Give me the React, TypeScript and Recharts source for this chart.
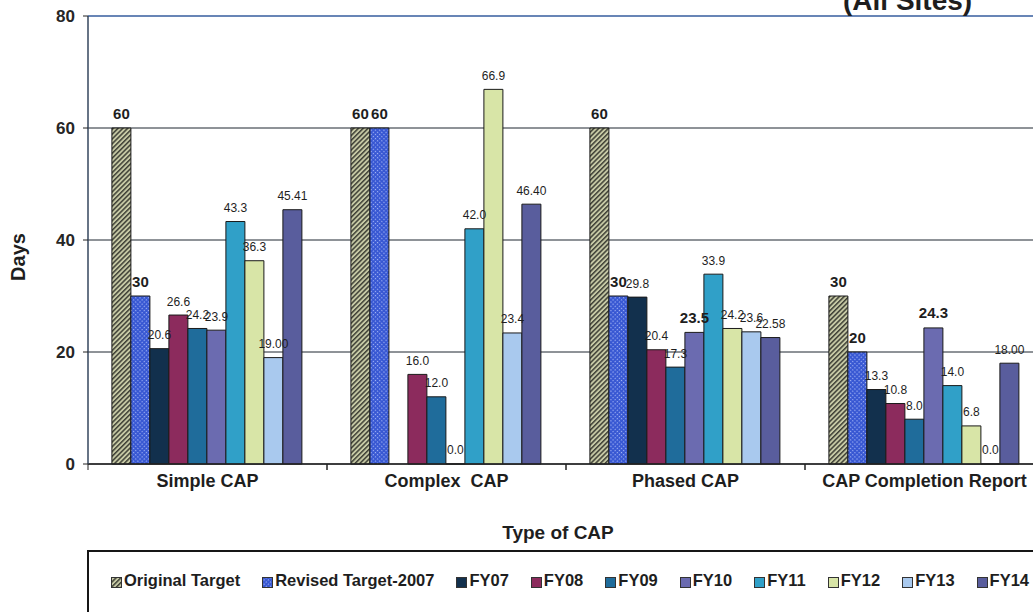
import React from 'react';
import {
  BarChart,
  Bar,
  XAxis,
  YAxis,
  CartesianGrid,
  LabelList,
  Legend,
  ReferenceLine,
} from 'recharts';

// ---- data ----
const categories = ['Simple CAP', 'Complex  CAP', 'Phased CAP', 'CAP Completion Report'];
const originalTarget = [60, 60, 60, 30];
const revisedTarget2007 = [30, 60, 30, 20];
const fy07 = [20.6, null, 29.8, 13.3];
const fy08 = [26.6, 16.0, 20.4, 10.8];
const fy09 = [24.2, 12.0, 17.3, 8.0];
const fy10 = [23.9, 0.0, 23.5, 24.3];
const fy11 = [43.3, 42.0, 33.9, 14.0];
const fy12 = [36.3, 66.9, 24.2, 6.8];
const fy13 = [19.0, 23.4, 23.6, 0.0];
const fy14 = [45.41, 46.4, 22.58, 18.0];
const yTicks = [0, 20, 40, 60, 80];

// ---- layout / styling ----
const FONT = '"Liberation Sans", Arial, Helvetica, sans-serif';
const CHART_W = 1100;
const CHART_H = 612;
const MARGIN = { top: 16, right: 56, bottom: 88, left: 0 };
const Y_AXIS_W = 88;
const X_AXIS_H = 60;
const HALF_BAND = (CHART_W - MARGIN.left - MARGIN.right - Y_AXIS_W) / categories.length / 2;

type Series = {
  key: string;
  name: string;
  values: (number | null)[];
  fill: string;
  decimals: (i: number) => number;
  bold: (i: number) => boolean;
};

const fy13Decimals = [2, 1, 1, 1];
const fy10BoldLabel = [false, false, true, true];

const series: Series[] = [
  { key: 'orig', name: 'Original Target', values: originalTarget, fill: 'url(#hatchOriginal)', decimals: () => 0, bold: () => true },
  { key: 'rev', name: 'Revised Target-2007', values: revisedTarget2007, fill: 'url(#dotsRevised)', decimals: () => 0, bold: () => true },
  { key: 'fy07', name: 'FY07', values: fy07, fill: '#12304d', decimals: () => 1, bold: () => false },
  { key: 'fy08', name: 'FY08', values: fy08, fill: '#8c2b5d', decimals: () => 1, bold: () => false },
  { key: 'fy09', name: 'FY09', values: fy09, fill: '#1f6c9b', decimals: () => 1, bold: () => false },
  { key: 'fy10', name: 'FY10', values: fy10, fill: '#6b6bb0', decimals: () => 1, bold: (i) => fy10BoldLabel[i] },
  { key: 'fy11', name: 'FY11', values: fy11, fill: '#30a0c8', decimals: () => 1, bold: () => false },
  { key: 'fy12', name: 'FY12', values: fy12, fill: '#d8e5a7', decimals: () => 1, bold: () => false },
  { key: 'fy13', name: 'FY13', values: fy13, fill: '#a9c9ee', decimals: (i) => fy13Decimals[i], bold: () => false },
  { key: 'fy14', name: 'FY14', values: fy14, fill: '#595d9d', decimals: () => 2, bold: () => false },
];

const data = categories.map((category, i) => {
  const row: Record<string, string | number | null> = { category };
  series.forEach((s) => {
    row[s.key] = s.values[i];
  });
  return row;
});

// value label drawn centred above each bar
const makeValueLabel = (s: Series) => (props: any) => {
  const { value, index } = props;
  if (value === null || value === undefined || Number.isNaN(Number(value))) return null;
  const vb = props.viewBox ?? props;
  const cx = vb.x + vb.width / 2;
  const top = Math.min(vb.y, vb.y + vb.height);
  const bold = s.bold(index);
  return (
    <text
      x={cx}
      y={top - 9.5}
      textAnchor="middle"
      fontFamily={FONT}
      fontSize={bold ? 15 : 12}
      fontWeight={bold ? 700 : 400}
      fill="#1e1e1e"
    >
      {Number(value).toFixed(s.decimals(index))}
    </text>
  );
};

const CategoryTick = (props: any) => {
  const { x, y, payload } = props;
  return (
    <g>
      <line x1={x - HALF_BAND} x2={x - HALF_BAND} y1={y} y2={y + 6} stroke="#222" strokeWidth={1} />
      <line x1={x + HALF_BAND} x2={x + HALF_BAND} y1={y} y2={y + 6} stroke="#222" strokeWidth={1} />
      <text
        x={x}
        y={y + 23}
        textAnchor="middle"
        fontFamily={FONT}
        fontSize={18}
        fontWeight={700}
        fill="#1e1e1e"
        style={{ whiteSpace: 'pre' }}
      >
        {payload.value}
      </text>
    </g>
  );
};

const DaysLabel = (props: any) => {
  const vb = props.viewBox ?? { x: 0, y: 16, width: 88, height: 448 };
  const x = vb.x + 25;
  const y = vb.y + vb.height / 2 + 17;
  return (
    <text
      x={x}
      y={y}
      transform={`rotate(-90 ${x} ${y})`}
      textAnchor="middle"
      fontFamily={FONT}
      fontSize={20}
      fontWeight={700}
      fill="#1e1e1e"
    >
      Days
    </text>
  );
};

const TypeLabel = (props: any) => {
  const vb = props.viewBox ?? { x: 88, y: 464, width: 956, height: 60 };
  return (
    <text
      x={vb.x + vb.width / 2 - 8}
      y={vb.y + 75}
      textAnchor="middle"
      fontFamily={FONT}
      fontSize={19}
      fontWeight={700}
      fill="#1e1e1e"
    >
      Type of CAP
    </text>
  );
};

const LegendBox = () => (
  <div
    style={{
      borderTop: '2px solid #161616',
      borderLeft: '2px solid #161616',
      height: 70,
      boxSizing: 'border-box',
      paddingLeft: 22,
      paddingTop: 19,
      display: 'flex',
      alignItems: 'flex-start',
      fontFamily: FONT,
      fontWeight: 700,
      fontSize: 16.5,
      color: '#1e1e1e',
      whiteSpace: 'nowrap',
      textAlign: 'left',
    }}
  >
    {series.map((s) => (
      <span key={s.key} style={{ display: 'inline-flex', alignItems: 'center', marginRight: 22 }}>
        <svg width={11} height={11} style={{ position: 'relative', top: 2 }}>
          <rect x={0.5} y={0.5} width={10} height={10} fill={s.fill} stroke="#333" strokeWidth={1} />
        </svg>
        <span style={{ marginLeft: 2 }}>{s.name}</span>
      </span>
    ))}
  </div>
);

export default function App() {
  return (
    <div
      style={{
        position: 'absolute',
        left: 0,
        top: 0,
        width: 1033,
        height: 612,
        overflow: 'hidden',
        background: '#ffffff',
      }}
    >
      <svg width={0} height={0} style={{ position: 'absolute' }}>
        <defs>
          <pattern id="hatchOriginal" width={3.4} height={3.4} patternUnits="userSpaceOnUse" patternTransform="rotate(45)">
            <rect width={3.4} height={3.4} fill="#c6c9a5" />
            <rect width={1.5} height={3.4} fill="#3f4036" />
          </pattern>
          <pattern id="dotsRevised" width={3} height={3} patternUnits="userSpaceOnUse" patternTransform="rotate(45)">
            <rect width={3} height={3} fill="#3656d2" />
            <rect width={1.2} height={1.2} fill="#a8b8f6" />
          </pattern>
        </defs>
      </svg>

      <BarChart
        width={CHART_W}
        height={CHART_H}
        data={data}
        margin={MARGIN}
        barCategoryGap="10%"
        barGap={0}
      >
        <CartesianGrid vertical={false} stroke="#1f2630" strokeWidth={1} />
        <XAxis
          dataKey="category"
          height={X_AXIS_H}
          axisLine={{ stroke: '#222', strokeWidth: 1.5 }}
          tickLine={false}
          tickSize={0}
          tickMargin={0}
          interval={0}
          tick={<CategoryTick />}
          label={TypeLabel}
        />
        <YAxis
          width={Y_AXIS_W}
          domain={[0, 80]}
          ticks={yTicks}
          interval={0}
          axisLine={{ stroke: '#34465e', strokeWidth: 1.5 }}
          tickLine={{ stroke: '#222' }}
          tickSize={5}
          tickMargin={8}
          tick={{ fontFamily: FONT, fontSize: 17, fontWeight: 700, fill: '#262626' }}
          label={DaysLabel}
        />
        <ReferenceLine y={80} stroke="#5b80c0" strokeWidth={1.5} />
        {series.map((s) => (
          <Bar
            key={s.key}
            dataKey={s.key}
            name={s.name}
            fill={s.fill}
            stroke="#1a1a1a"
            strokeWidth={1}
            minPointSize={0.01}
            isAnimationActive={false}
          >
            <LabelList dataKey={s.key} content={makeValueLabel(s)} />
          </Bar>
        ))}
        <Legend
          layout="vertical"
          align="center"
          verticalAlign="middle"
          content={LegendBox}
          wrapperStyle={{ left: 87, top: 550, width: 1013, height: 70 }}
        />
      </BarChart>

      <svg width={1033} height={40} style={{ position: 'absolute', left: 0, top: 0 }}>
        <text x={843} y={10} fontFamily={FONT} fontSize={28} fontWeight={700} fill="#1e1e1e">
          (All Sites)
        </text>
      </svg>
    </div>
  );
}
